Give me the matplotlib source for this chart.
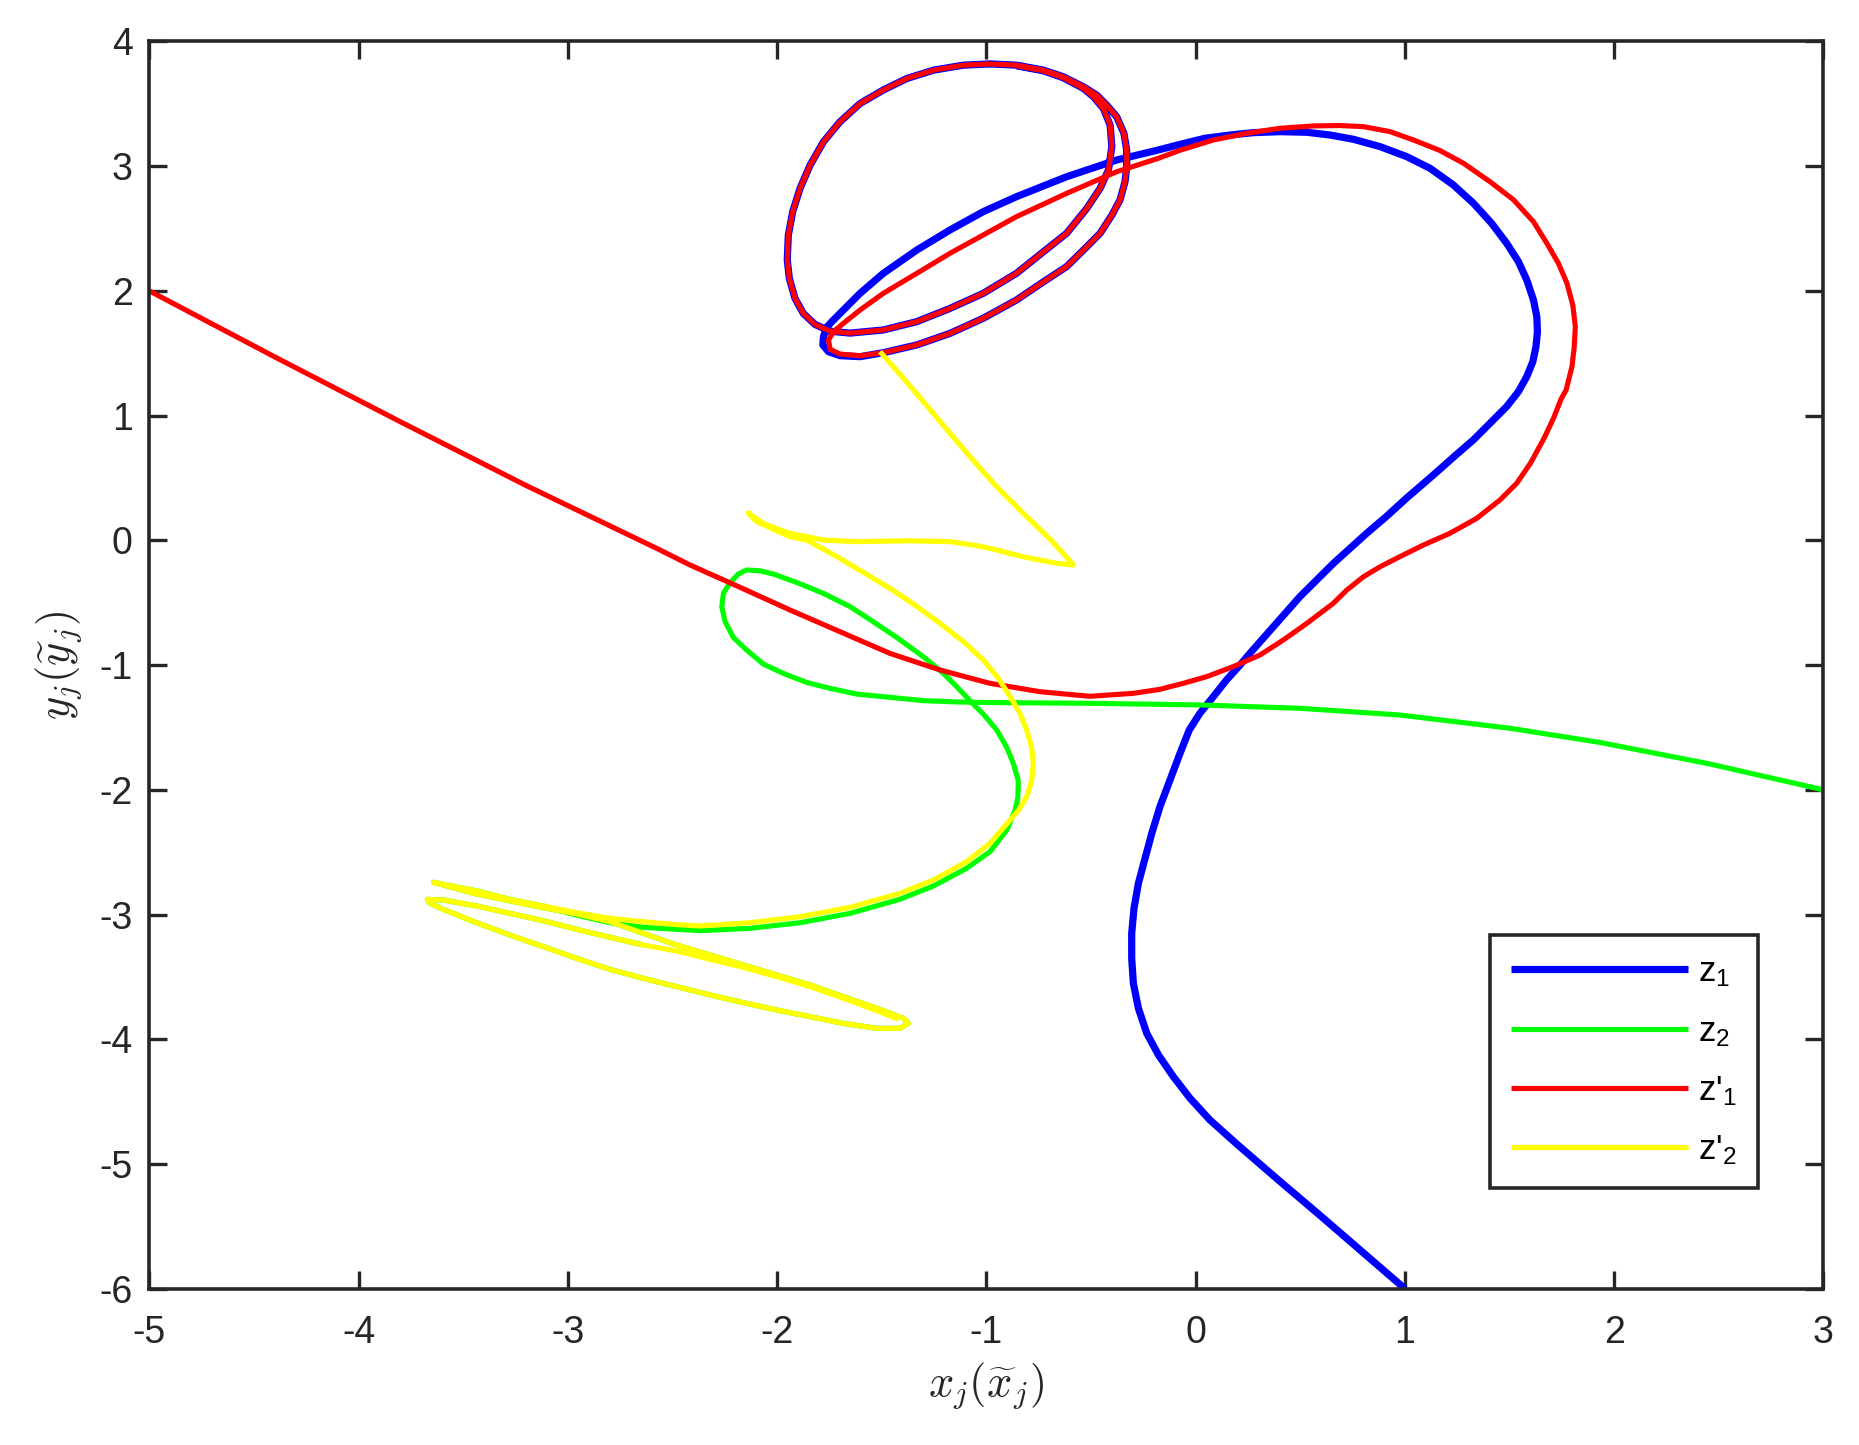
import matplotlib
matplotlib.use("Agg")
import matplotlib.pyplot as plt

# ---------------- data ----------------
z1_x = [1.000, 0.800, 0.600, 0.400, 0.200, 0.068, -0.027, -0.107, -0.178, -0.234,
        -0.274, -0.298, -0.306, -0.306, -0.295, -0.274, -0.242, -0.210, -0.171, -0.123,
        -0.075, -0.031, 0.020, 0.084, 0.147, 0.212, 0.259, 0.371, 0.498, 0.658,
        0.817, 0.910, 1.008, 1.136, 1.247, 1.327, 1.406, 1.486, 1.542, 1.582,
        1.611, 1.626, 1.633, 1.630, 1.614, 1.582, 1.542, 1.486, 1.414, 1.327,
        1.231, 1.120, 1.008, 0.881, 0.753, 0.642, 0.531, 0.403, 0.275, 0.164,
        0.044, -0.075, -0.179, -0.377, -0.616, -0.856, -1.015, -1.174, -1.333, -1.493,
        -1.604, -1.684, -1.739, -1.763, -1.779, -1.782, -1.755, -1.700, -1.604, -1.493,
        -1.333, -1.174, -1.015, -0.856, -0.728, -0.617, -0.521, -0.457, -0.401, -0.362,
        -0.338, -0.330, -0.330, -0.343, -0.378, -0.425, -0.473, -0.537, -0.633, -0.728,
        -0.856, -0.983, -1.111, -1.253, -1.381, -1.493, -1.604, -1.700, -1.779, -1.843,
        -1.891, -1.926, -1.947, -1.952, -1.942, -1.915, -1.875, -1.819, -1.747, -1.652,
        -1.493, -1.333, -1.174, -1.015, -0.856, -0.728, -0.617, -0.521, -0.457, -0.417,
        -0.401, -0.409, -0.441, -0.489, -0.537, -0.633, -0.728, -0.856]
z1_y = [-6.000, -5.710, -5.420, -5.135, -4.845, -4.647, -4.473, -4.299, -4.126, -3.952,
        -3.751, -3.551, -3.350, -3.150, -2.950, -2.749, -2.549, -2.348, -2.135, -1.921,
        -1.707, -1.520, -1.386, -1.253, -1.119, -0.999, -0.905, -0.692, -0.451, -0.184,
        0.057, 0.190, 0.340, 0.525, 0.690, 0.806, 0.939, 1.073, 1.193, 1.313,
        1.433, 1.554, 1.674, 1.794, 1.928, 2.088, 2.235, 2.382, 2.542, 2.703,
        2.850, 2.983, 3.077, 3.157, 3.216, 3.250, 3.272, 3.277, 3.269, 3.250,
        3.224, 3.175, 3.130, 3.050, 2.916, 2.756, 2.636, 2.489, 2.328, 2.141,
        1.981, 1.847, 1.754, 1.709, 1.634, 1.567, 1.513, 1.481, 1.473, 1.505,
        1.567, 1.660, 1.781, 1.928, 2.073, 2.195, 2.354, 2.462, 2.607, 2.729,
        2.875, 2.996, 3.130, 3.263, 3.397, 3.489, 3.570, 3.637, 3.717, 3.770,
        3.810, 3.820, 3.810, 3.770, 3.703, 3.611, 3.503, 3.356, 3.196, 3.008,
        2.822, 2.636, 2.447, 2.248, 2.100, 1.940, 1.819, 1.731, 1.677, 1.662,
        1.687, 1.754, 1.860, 1.981, 2.142, 2.314, 2.462, 2.661, 2.822, 2.970,
        3.157, 3.329, 3.462, 3.557, 3.624, 3.709, 3.765, 3.805]

z2_x = [3.000, 2.450, 1.932, 1.502, 0.976, 0.498, 0.020, -0.505, -0.744, -0.983,
        -1.142, -1.302, -1.461, -1.620, -1.748, -1.859, -1.971, -2.066, -2.146, -2.210,
        -2.249, -2.265, -2.257, -2.225, -2.186, -2.146, -2.082, -2.018, -1.907, -1.780,
        -1.652, -1.541, -1.429, -1.302, -1.206, -1.142, -1.079, -1.015, -0.951, -0.903,
        -0.872, -0.848, -0.850, -0.863, -0.903, -0.983, -1.095, -1.254, -1.413, -1.652,
        -1.891, -2.130, -2.369, -2.640, -2.799, -2.958, -3.118, -3.277, -3.436, -3.643,
        -3.450, -3.277, -3.118, -2.958, -2.799, -2.640, -2.480, -2.321, -2.162, -2.002,
        -1.843, -1.684, -1.524, -1.397, -1.373, -1.413, -1.524, -1.684, -1.843, -2.002,
        -2.162, -2.321, -2.480, -2.640, -2.799, -2.958, -3.118, -3.277, -3.436, -3.596,
        -3.659, -3.672, -3.596, -3.436, -3.277, -3.118, -2.958, -2.799, -2.640]
z2_y = [-2.000, -1.790, -1.620, -1.506, -1.400, -1.346, -1.319, -1.306, -1.303, -1.300,
        -1.295, -1.285, -1.258, -1.232, -1.186, -1.139, -1.066, -0.992, -0.879, -0.778,
        -0.652, -0.531, -0.424, -0.337, -0.270, -0.237, -0.244, -0.270, -0.337, -0.424,
        -0.531, -0.652, -0.778, -0.932, -1.066, -1.173, -1.285, -1.393, -1.520, -1.660,
        -1.787, -1.928, -2.060, -2.161, -2.322, -2.495, -2.629, -2.771, -2.877, -2.990,
        -3.065, -3.110, -3.129, -3.102, -3.065, -3.005, -2.931, -2.878, -2.810, -2.741,
        -2.830, -2.890, -2.945, -2.995, -3.057, -3.150, -3.244, -3.324, -3.404, -3.484,
        -3.564, -3.658, -3.751, -3.831, -3.871, -3.912, -3.912, -3.872, -3.818, -3.765,
        -3.706, -3.644, -3.578, -3.511, -3.439, -3.351, -3.257, -3.164, -3.065, -2.958,
        -2.910, -2.878, -2.883, -2.931, -2.990, -3.049, -3.118, -3.182, -3.244]

z1p_x = [-5.000, -4.400, -3.802, -3.200, -2.560, -2.417, -2.178, -1.939, -1.700, -1.461,
         -1.222, -0.983, -0.744, -0.505, -0.299, -0.171, -0.060, 0.053, 0.179, 0.307,
         0.418, 0.531, 0.657, 0.722, 0.802, 0.881, 0.976, 1.088, 1.215, 1.343,
         1.454, 1.534, 1.600, 1.665, 1.710, 1.745, 1.770, 1.798, 1.809, 1.814,
         1.802, 1.774, 1.733, 1.678, 1.614, 1.519, 1.406, 1.280, 1.168, 1.041,
         0.929, 0.802, 0.690, 0.563, 0.403, 0.244, 0.084, -0.075, -0.179, -0.377,
         -0.616, -0.856, -1.015, -1.174, -1.333, -1.493, -1.604, -1.684, -1.731, -1.755,
         -1.747, -1.700, -1.604, -1.493, -1.333, -1.174, -1.015, -0.856, -0.728, -0.617,
         -0.521, -0.457, -0.401, -0.362, -0.338, -0.330, -0.330, -0.343, -0.378, -0.425,
         -0.473, -0.537, -0.633, -0.728, -0.856, -0.983, -1.111, -1.253, -1.381, -1.493,
         -1.604, -1.700, -1.779, -1.843, -1.891, -1.926, -1.947, -1.952, -1.942, -1.915,
         -1.875, -1.819, -1.747, -1.652, -1.493, -1.333, -1.174, -1.015, -0.856, -0.728,
         -0.617, -0.521, -0.457, -0.417, -0.401, -0.409, -0.441, -0.489, -0.537, -0.633,
         -0.728, -0.856]
z1p_y = [2.000, 1.470, 0.952, 0.440, -0.077, -0.197, -0.376, -0.558, -0.732, -0.906,
         -1.039, -1.146, -1.213, -1.250, -1.226, -1.194, -1.146, -1.092, -1.012, -0.919,
         -0.799, -0.665, -0.505, -0.398, -0.291, -0.211, -0.130, -0.037, 0.057, 0.177,
         0.324, 0.458, 0.620, 0.820, 0.980, 1.130, 1.206, 1.393, 1.553, 1.714,
         1.887, 2.062, 2.222, 2.382, 2.555, 2.730, 2.876, 3.023, 3.125, 3.210,
         3.277, 3.317, 3.326, 3.323, 3.304, 3.264, 3.210, 3.128, 3.063, 2.956,
         2.783, 2.596, 2.449, 2.302, 2.141, 1.981, 1.847, 1.740, 1.674, 1.607,
         1.532, 1.494, 1.480, 1.505, 1.567, 1.660, 1.781, 1.928, 2.073, 2.195,
         2.354, 2.462, 2.607, 2.729, 2.875, 2.996, 3.130, 3.263, 3.397, 3.489,
         3.570, 3.637, 3.717, 3.770, 3.810, 3.820, 3.810, 3.770, 3.703, 3.611,
         3.503, 3.356, 3.196, 3.008, 2.822, 2.636, 2.447, 2.248, 2.100, 1.940,
         1.819, 1.731, 1.677, 1.662, 1.687, 1.754, 1.860, 1.981, 2.142, 2.314,
         2.462, 2.661, 2.822, 2.970, 3.157, 3.329, 3.462, 3.557, 3.624, 3.709,
         3.765, 3.805]

z2p_x = [-1.509, -1.397, -1.290, -1.180, -1.065, -0.951, -0.824, -0.696, -0.601, -0.585,
         -0.665, -0.824,
         -0.983, -1.063, -1.174, -1.381, -1.620, -1.780, -1.859, -1.939, -2.018, -2.066,
         -2.114, -2.138, -2.098, -2.018, -1.939, -1.859, -1.700, -1.581, -1.461, -1.342,
         -1.222, -1.110, -1.015, -0.943, -0.887, -0.840, -0.808, -0.784, -0.776, -0.784,
         -0.808, -0.845, -0.887, -0.983, -1.095, -1.254, -1.413, -1.652, -1.891, -2.130,
         -2.369, -2.480, -2.640, -2.799, -2.958, -3.118, -3.277, -3.436, -3.643, -3.450,
         -3.277, -3.118, -2.958, -2.799, -2.640, -2.480, -2.321, -2.162, -2.002, -1.843,
         -1.684, -1.524, -1.397, -1.373, -1.413, -1.524, -1.684, -1.843, -2.002, -2.162,
         -2.321, -2.480, -2.640, -2.799, -2.958, -3.118, -3.277, -3.436, -3.596, -3.659,
         -3.672, -3.596, -3.436, -3.277, -3.118, -2.958, -2.799, -2.640, -2.480, -2.321,
         -2.162, -2.002, -1.843, -1.684, -1.524, -1.420]
z2p_y = [1.513, 1.300, 1.090, 0.870, 0.645, 0.430, 0.217, 0.010, -0.165, -0.197,
         -0.184, -0.131,
         -0.064, -0.037, -0.010, -0.003, -0.010, 0.003, 0.030, 0.056, 0.105, 0.136,
         0.190, 0.221, 0.150, 0.089, 0.030, 0.003, -0.144, -0.264, -0.385, -0.518,
         -0.665, -0.812, -0.959, -1.106, -1.253, -1.386, -1.520, -1.660, -1.787, -1.928,
         -2.055, -2.160, -2.241, -2.428, -2.576, -2.723, -2.829, -2.942, -3.017, -3.065,
         -3.091, -3.080, -3.057, -3.030, -2.985, -2.931, -2.878, -2.810, -2.741, -2.830,
         -2.890, -2.945, -2.995, -3.057, -3.150, -3.244, -3.324, -3.404, -3.484, -3.564,
         -3.658, -3.751, -3.831, -3.871, -3.912, -3.912, -3.872, -3.818, -3.765, -3.706,
         -3.644, -3.578, -3.511, -3.439, -3.351, -3.257, -3.164, -3.065, -2.958, -2.910,
         -2.878, -2.883, -2.931, -2.990, -3.049, -3.118, -3.182, -3.244, -3.292, -3.359,
         -3.423, -3.498, -3.578, -3.671, -3.770, -3.840]

labels = ["z$_1$", "z$_2$", "z'$_1$", "z'$_2$"]
x_ticks = [-5, -4, -3, -2, -1, 0, 1, 2, 3]
y_ticks = [-6, -5, -4, -3, -2, -1, 0, 1, 2, 3, 4]

# ---------------- style ----------------
plt.rcParams['font.family'] = ['Liberation Sans', 'DejaVu Sans']
plt.rcParams['mathtext.fontset'] = 'custom'
plt.rcParams['mathtext.rm'] = 'Liberation Sans'
plt.rcParams['mathtext.it'] = 'Liberation Sans:italic'
plt.rcParams['mathtext.bf'] = 'Liberation Sans:bold'
axcol = (0.15, 0.15, 0.15)

fig = plt.figure(figsize=(18.59, 14.45), dpi=100)
ax = fig.add_axes([0.0804, 0.1081, 0.9005, 0.8632])

line_kw = dict(solid_joinstyle='round', solid_capstyle='butt')
ax.plot(z1_x, z1_y, color=(0, 0, 1), lw=5.2, label=labels[0], **line_kw)
ax.plot(z2_x, z2_y, color=(0, 1, 0), lw=3.7, label=labels[1], **line_kw)
ax.plot(z1p_x, z1p_y, color=(1, 0, 0), lw=3.7, label=labels[2], **line_kw)
ax.plot(z2p_x, z2p_y, color=(1, 1, 0), lw=3.7, label=labels[3], **line_kw)

ax.set_xlim(-5, 3)
ax.set_ylim(-6, 4)
ax.set_xticks(x_ticks)
ax.set_yticks(y_ticks)
ax.set_xticklabels([str(v) for v in x_ticks])
ax.set_yticklabels([str(v) for v in y_ticks])
ax.tick_params(axis='both', which='both', direction='in', length=13, width=2.4,
               colors=axcol, labelsize=27, top=True, right=True)
ax.tick_params(axis='x', pad=19)
ax.tick_params(axis='y', pad=12)
for s in ax.spines.values():
    s.set_linewidth(2.6)
    s.set_color(axcol)

ax.set_xlabel(r'$x_j(\widetilde{x}_j)$', fontsize=32, color=axcol,
              math_fontfamily='cm', va='center')
ax.set_ylabel(r'$y_j(\widetilde{y}_j)$', fontsize=32, color=axcol,
              math_fontfamily='cm', va='center')
ax.xaxis.set_label_coords(0.5, -0.078)
ax.yaxis.set_label_coords(-0.054, 0.5)

leg = ax.legend(loc='lower right', bbox_to_anchor=(0.9609, 0.0807),
                bbox_transform=ax.transAxes, borderaxespad=0.0,
                fontsize=25, frameon=True, fancybox=False, framealpha=1,
                handlelength=5.1, handletextpad=0.3, borderpad=0.6,
                labelspacing=0.74)
leg.get_frame().set_edgecolor(axcol)
leg.get_frame().set_linewidth(2.6)
for line in leg.get_lines():
    line.set_solid_capstyle('butt')

fig.savefig('out.png', dpi=100)
